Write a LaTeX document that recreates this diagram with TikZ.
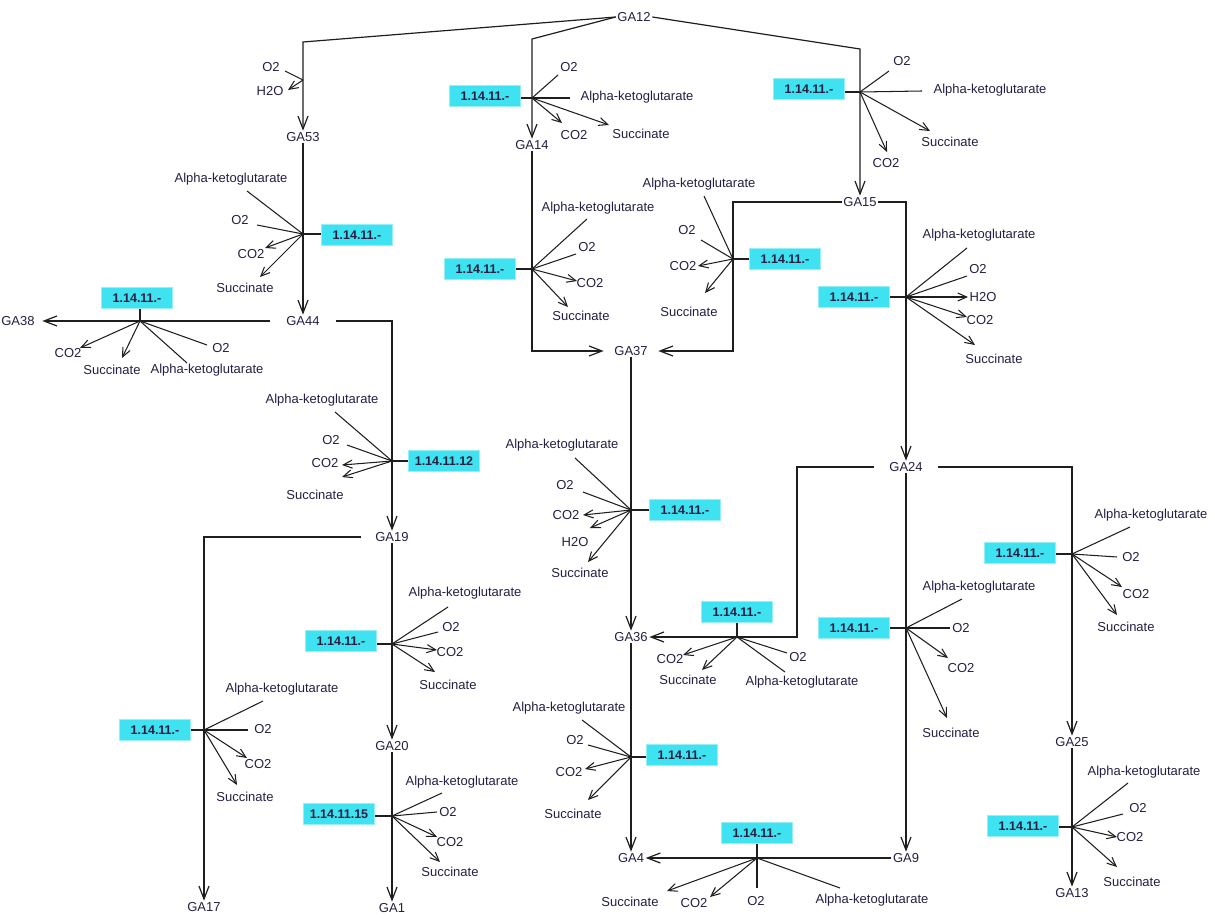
\documentclass[tikz,border=0pt]{standalone}
\usepackage{fontspec}
\setmainfont{Liberation Sans}
\usetikzlibrary{arrows.meta}
\definecolor{ink}{RGB}{38,30,66}
\definecolor{linecol}{RGB}{30,30,30}
\definecolor{enzfill}{RGB}{62,226,240}
\definecolor{enzedge}{RGB}{150,238,247}
\newcommand\lblfont{\fontsize{13}{15}\selectfont}
\newcommand\enzfont{\fontsize{12.5}{14}\selectfont\bfseries}
% substrate (in) and product (out) spokes: junction, name, line end, label position, text
\newcommand\sIn[5]{\coordinate (#2e) at (#3);\node[lbl] (#2) at (#4) {#5};\draw[spoke] (#1) -- (#2e);}
\newcommand\sOut[5]{\coordinate (#2e) at (#3);\node[lbl] (#2) at (#4) {#5};\draw[spoke,tipsmall] (#1) -- (#2e);}
% enzyme box beside the junction (#5 = side facing it) or above it
\newcommand\enzH[5]{\node[enz] (#1) at (#2) {#4};\coordinate (#1j) at (#3);\draw[spoke] (#1j -| #1.#5) -- (#1j);}
\newcommand\enzV[4]{\node[enz] (#1) at (#2) {#4};\coordinate (#1j) at (#3);\draw[spoke] (#1j |- #1.south) -- (#1j);}
\begin{document}
\begin{tikzpicture}[x=1pt,y=-1pt,
  lbl/.style={font=\lblfont,text=ink,inner sep=1pt},
  ga/.style={font=\lblfont,text=ink,inner sep=1.5pt},
  enz/.style={fill=enzfill,draw=enzedge,line width=1.4pt,minimum width=71pt,minimum height=21pt,inner sep=0pt,font=\enzfont,text=ink},
  flow/.style={draw=linecol,line width=1.2pt,-{Straight Barb[length=13pt,width=10pt]}},
  spoke/.style={draw=linecol,line width=1.05pt},
  tipsmall/.style={-{Straight Barb[length=9pt,width=8pt]}}]
\useasboundingbox (0,0) rectangle (1215,918);

% gibberellins
\node[ga] (ga12) at (634,17) {GA12};
\node[ga] (ga53) at (303,137) {GA53};
\node[ga] (ga14) at (532,145) {GA14};
\node[ga] (ga15) at (860,202) {GA15};
\node[ga] (ga44) at (303,321) {GA44};
\node[ga] (ga38) at (18,321) {GA38};
\node[ga] (ga37) at (631,351) {GA37};
\node[ga] (ga24) at (906,467) {GA24};
\node[ga] (ga19) at (392,537) {GA19};
\node[ga] (ga36) at (631,637) {GA36};
\node[ga] (ga25) at (1072,742) {GA25};
\node[ga] (ga20) at (392,746) {GA20};
\node[ga] (ga4) at (631,858) {GA4};
\node[ga] (ga9) at (906,858) {GA9};
\node[ga] (ga13) at (1072,893) {GA13};
\node[ga] (ga17) at (204,907) {GA17};
\node[ga] (ga1) at (392,908) {GA1};

% pathway steps
\draw[flow] (ga12.west) -- (303,42) -- (ga53);
\draw[flow] (ga12.west) -- (532,39) -- (ga14);
\draw[flow] (ga12.east) -- (860,49) -- (ga15);
\draw[flow] (ga53) -- (ga44);
\draw[flow,shorten <=15pt,shorten >=6pt] (ga44) -- (ga38);
\draw[flow,shorten <=15pt] (ga44) -| (ga19);
\draw[flow,shorten >=9pt] (ga14) |- (ga37);
\draw[flow,shorten >=9pt] (ga15.west) -- (733,202) -- (733,351) -- (ga37);
\draw[flow] (ga15.east) -| (ga24);
\draw[flow] (ga37) -- (ga36);
\draw[flow,shorten <=14pt] (ga24) -- (797,467) -- (797,637) -- (ga36);
\draw[flow] (ga24) -- (ga9);
\draw[flow,shorten <=14pt] (ga24) -| (ga25);
\draw[flow] (ga25) -- (ga13);
\draw[flow] (ga36) -- (ga4);
\draw[flow] (ga9) -- (ga4);
\draw[flow,shorten <=13pt] (ga19) -| (ga17);
\draw[flow] (ga19) -- (ga20);
\draw[flow] (ga20) -- (ga1);

% GA12 -> GA14
\enzH{e1}{485,96}{532,98}{1.14.11.-}{east}
\sIn{e1j}{o1}{558,75}{569,67}{O2}
\sIn{e1j}{a1}{570,98}{637,97}{Alpha-ketoglutarate}
\sOut{e1j}{c1}{562,123}{574,135}{CO2}
\sOut{e1j}{s1}{609,125}{641,134}{Succinate}

% GA12 -> GA15
\enzH{e2}{809,89}{860,92}{1.14.11.-}{east}
\sIn{e2j}{o2}{889,71}{902,61}{O2}
\sIn{e2j}{a2}{922,91}{990,90}{Alpha-ketoglutarate}
\sOut{e2j}{s2}{930,131}{950,142}{Succinate}
\sOut{e2j}{c2}{887,152}{886,163}{CO2}

% GA12 -> GA53
\coordinate (e3j) at (303,80);
\sIn{e3j}{o3}{285,71}{271,67}{O2}
\sOut{e3j}{h3}{288,90}{270,91}{H2O}

% GA53 -> GA44
\enzH{e4}{357,235}{303,234}{1.14.11.-}{west}
\sIn{e4j}{a4}{247,191}{231,179}{Alpha-ketoglutarate}
\sIn{e4j}{o4}{257,225}{240,220}{O2}
\sOut{e4j}{c4}{265,248}{251,254}{CO2}
\sOut{e4j}{s4}{260,277}{245,288}{Succinate}

% GA44 -> GA38
\enzV{e5}{137,298}{140,321}{1.14.11.-}
\sOut{e5j}{c5}{80,348}{68,353}{CO2}
\sOut{e5j}{s5}{122,358}{112,370}{Succinate}
\sIn{e5j}{a5}{187,363}{207,370}{Alpha-ketoglutarate}
\sIn{e5j}{o5}{207,345}{221,348}{O2}

% GA14 -> GA37
\enzH{e6}{480,269}{532,269}{1.14.11.-}{east}
\sIn{e6j}{a6}{587,219}{598,208}{Alpha-ketoglutarate}
\sIn{e6j}{o6}{576,254}{587,247}{O2}
\sOut{e6j}{c6}{577,281}{590,283}{CO2}
\sOut{e6j}{s6}{568,307}{581,316}{Succinate}

% GA15 -> GA37
\enzH{e7}{785,259}{733,259}{1.14.11.-}{west}
\sIn{e7j}{a7}{704,196}{699,184}{Alpha-ketoglutarate}
\sIn{e7j}{o7}{701,240}{687,230}{O2}
\sOut{e7j}{c7}{698,266}{683,266}{CO2}
\sOut{e7j}{s7}{705,293}{689,312}{Succinate}

% GA15 -> GA24
\enzH{e8}{854,297}{906,297}{1.14.11.-}{east}
\sIn{e8j}{a8}{967,248}{979,235}{Alpha-ketoglutarate}
\sIn{e8j}{o8}{967,276}{978,269}{O2}
\sOut{e8j}{h8}{968,297}{983,297}{H2O}
\sOut{e8j}{c8}{967,317}{980,320}{CO2}
\sOut{e8j}{s8}{975,345}{994,359}{Succinate}

% GA44 -> GA19
\enzH{e9}{444,461}{392,461}{1.14.11.12}{west}
\sIn{e9j}{a9}{335,412}{322,400}{Alpha-ketoglutarate}
\sIn{e9j}{o9}{347,445}{331,440}{O2}
\sOut{e9j}{c9}{342,465}{325,463}{CO2}
\sOut{e9j}{s9}{342,477}{315,495}{Succinate}

% GA37 -> GA36
\enzH{e10}{685,510}{631,510}{1.14.11.-}{west}
\sIn{e10j}{a10}{575,458}{562,445}{Alpha-ketoglutarate}
\sIn{e10j}{o10}{583,492}{565,485}{O2}
\sOut{e10j}{c10}{583,515}{566,515}{CO2}
\sOut{e10j}{h10}{590,528}{575,542}{H2O}
\sOut{e10j}{s10}{588,562}{580,573}{Succinate}

% GA24 -> GA25
\enzH{e11}{1020,553}{1072,554}{1.14.11.-}{east}
\sIn{e11j}{a11}{1130,527}{1151,515}{Alpha-ketoglutarate}
\sIn{e11j}{o11}{1117,557}{1131,557}{O2}
\sOut{e11j}{c11}{1122,587}{1136,594}{CO2}
\sOut{e11j}{s11}{1117,615}{1126,627}{Succinate}

% GA24 -> GA9
\enzH{e12}{854,628}{906,628}{1.14.11.-}{east}
\sIn{e12j}{a12}{962,599}{979,587}{Alpha-ketoglutarate}
\sIn{e12j}{o12}{950,628}{961,628}{O2}
\sOut{e12j}{c12}{948,658}{961,668}{CO2}
\sOut{e12j}{s12}{947,718}{951,733}{Succinate}

% GA24 -> GA36
\enzV{e13}{737,612}{737,637}{1.14.11.-}
\sOut{e13j}{c13}{683,655}{670,659}{CO2}
\sOut{e13j}{s13}{702,670}{688,680}{Succinate}
\sIn{e13j}{o13}{787,653}{798,657}{O2}
\sIn{e13j}{a13}{785,672}{802,682}{Alpha-ketoglutarate}

% GA19 -> GA20
\enzH{e14}{341,641}{392,644}{1.14.11.-}{east}
\sIn{e14j}{a14}{448,607}{465,593}{Alpha-ketoglutarate}
\sIn{e14j}{o14}{438,632}{451,627}{O2}
\sOut{e14j}{c14}{437,650}{450,652}{CO2}
\sOut{e14j}{s14}{435,672}{448,685}{Succinate}

% GA19 -> GA17
\enzH{e15}{155,730}{204,730}{1.14.11.-}{east}
\sIn{e15j}{a15}{263,701}{282,689}{Alpha-ketoglutarate}
\sIn{e15j}{o15}{248,730}{263,729}{O2}
\sOut{e15j}{c15}{247,758}{258,764}{CO2}
\sOut{e15j}{s15}{237,785}{245,797}{Succinate}

% GA20 -> GA1
\enzH{e16}{339,814}{392,816}{1.14.11.15}{east}
\sIn{e16j}{a16}{442,793}{462,782}{Alpha-ketoglutarate}
\sIn{e16j}{o16}{437,812}{448,812}{O2}
\sOut{e16j}{c16}{437,837}{450,842}{CO2}
\sOut{e16j}{s16}{440,862}{450,872}{Succinate}

% GA36 -> GA4
\enzH{e17}{682,755}{631,757}{1.14.11.-}{west}
\sIn{e17j}{a17}{582,720}{569,708}{Alpha-ketoglutarate}
\sIn{e17j}{o17}{588,745}{575,740}{O2}
\sOut{e17j}{c17}{585,769}{569,772}{CO2}
\sOut{e17j}{s17}{588,800}{573,814}{Succinate}

% GA9 -> GA4
\enzV{e18}{757,833}{757,858}{1.14.11.-}
\sOut{e18j}{s18}{667,891}{630,902}{Succinate}
\sOut{e18j}{c18}{710,897}{694,903}{CO2}
\sIn{e18j}{o18}{757,888}{756,901}{O2}
\sIn{e18j}{a18}{840,888}{872,900}{Alpha-ketoglutarate}

% GA25 -> GA13
\enzH{e19}{1023,826}{1072,827}{1.14.11.-}{east}
\sIn{e19j}{a19}{1128,783}{1144,772}{Alpha-ketoglutarate}
\sIn{e19j}{o19}{1123,814}{1138,808}{O2}
\sOut{e19j}{c19}{1117,837}{1130,837}{CO2}
\sOut{e19j}{s19}{1117,867}{1132,882}{Succinate}
\end{tikzpicture}
\end{document}
